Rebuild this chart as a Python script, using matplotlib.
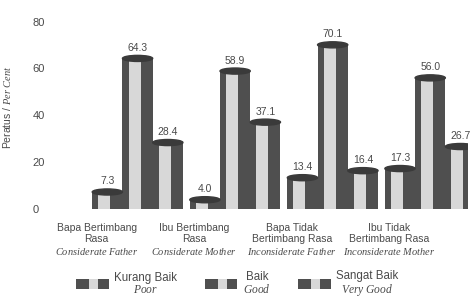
import numpy as np
import matplotlib.pyplot as plt
from matplotlib.patches import Rectangle, Ellipse
from matplotlib.legend_handler import HandlerBase

plt.rcParams['font.family'] = ['Liberation Sans', 'DejaVu Sans']
plt.rcParams['mathtext.fontset'] = 'custom'
plt.rcParams['mathtext.it'] = 'Liberation Serif:italic'
plt.rcParams['mathtext.rm'] = 'Liberation Serif'

# Data
categories_ms = ['Bapa Bertimbang\nRasa', 'Ibu Bertimbang\nRasa',
                 'Bapa Tidak\nBertimbang Rasa', 'Ibu Tidak\nBertimbang Rasa']
categories_en = ['Considerate Father', 'Considerate Mother',
                 'Inconsiderate Father', 'Inconsiderate Mother']
series_ms = ['Kurang Baik', 'Baik', 'Sangat Baik']
series_en = ['Poor', 'Good', 'Very Good']
kurang_baik = [7.3, 4.0, 13.4, 17.3]
baik = [64.3, 58.9, 70.1, 56.0]
sangat_baik = [28.4, 37.1, 16.4, 26.7]
yticks = [0, 20, 40, 60, 80]

dark = '#4f4f4f'
light = '#d8d8d8'
cap = '#3a3a3a'
txt = '#4a4a4a'


def ital(s):
    return r'$\mathit{' + s.replace(' ', r'\ ') + '}$'


class CylinderHandler(HandlerBase):
    def create_artists(self, legend, orig_handle, xdescent, ydescent,
                       width, height, fontsize, trans):
        body = Rectangle((-xdescent, -ydescent), width, height,
                         facecolor=dark, edgecolor='none', transform=trans)
        stripe = Rectangle((-xdescent + 0.4 * width, -ydescent), 0.28 * width, height,
                           facecolor=light, edgecolor='none', transform=trans)
        return [body, stripe]


fig = plt.figure(figsize=(4.73, 3.0), dpi=100)
ax = fig.add_axes([0.13, 0.303, 0.86, 0.664])

x = np.arange(len(categories_en))
bw = 0.31

for i, vals in enumerate([kurang_baik, baik, sangat_baik]):
    xs = x + (i - 1) * bw
    ax.bar(xs, vals, bw, color=dark, zorder=2)
    ax.bar(xs - 0.1 * bw, vals, 0.4 * bw, color=light, zorder=3)
    for xi, v in zip(xs, vals):
        ax.add_patch(Ellipse((xi, v), bw, 2.6, color=cap, zorder=4))
        ax.annotate(f'{v:.1f}', (xi, v), xytext=(0, 4), textcoords='offset points',
                    ha='center', va='bottom', fontsize=7.5, color=txt)

ax.set_xlim(-0.78, 3.39)
ax.set_ylim(0, 85)
ax.set_xticks([])
ax.set_yticks(yticks)
ax.tick_params(axis='y', length=0, pad=21, labelsize=8, labelcolor=txt)
for lbl in ax.get_yticklabels():
    lbl.set_ha('left')
for s in ax.spines.values():
    s.set_visible(False)

ax.set_ylabel('Peratus / ' + ital('Per Cent'), fontsize=7.5, color=txt)
ax.yaxis.set_label_coords(-0.12, 0.51)

# category labels
for i in range(len(categories_en)):
    ax.text(x[i] - 0.42, -0.07, categories_ms[i] + '\n' + ital(categories_en[i]),
            transform=ax.get_xaxis_transform(), ha='center', va='top',
            multialignment='center', fontsize=7.5, color=txt, linespacing=1.15)

handles = [Rectangle((0, 0), 1, 1) for _ in series_ms]
labels = [m + '\n' + ital(e) for m, e in zip(series_ms, series_en)]
leg = fig.legend(handles, labels, handler_map={Rectangle: CylinderHandler()},
                 loc='lower center', bbox_to_anchor=(0.502, 0.0), ncol=3,
                 frameon=False, fontsize=8.3, handlelength=2.8, handleheight=1.0,
                 handletextpad=0.5, columnspacing=2.4, borderpad=0.2, borderaxespad=0)
for t in leg.get_texts():
    t.set_multialignment('center')
    t.set_color(txt)
    t.set_linespacing(1.0)

fig.savefig('out.png', dpi=100)
